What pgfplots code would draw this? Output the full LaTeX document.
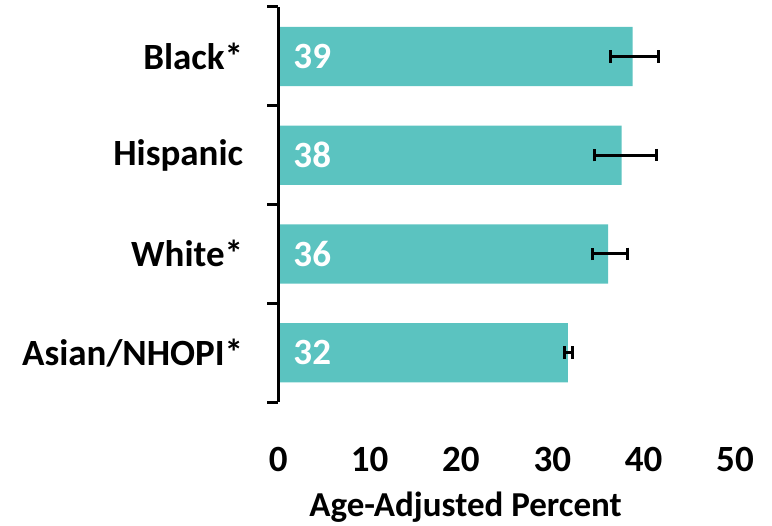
\documentclass[border=0pt]{standalone}
\usepackage{pgfplots}
\pgfplotsset{compat=1.18}
\usepackage{pgfplotstable}
\usepackage{fontspec}
\setmainfont{Carlito}
\definecolor{barteal}{HTML}{5BC3C0}
\newcommand\lbl{\fontsize{37bp}{44bp}\selectfont\bfseries}
\newcommand\axlbl{\fontsize{35bp}{42bp}\selectfont\bfseries}

% age-adjusted percent with 95% confidence limits, one row per group
\pgfplotstableread{
pos val  lo   hi
3   38.8 36.4 41.6
2   37.6 34.6 41.4
1   36.1 34.4 38.2
0   31.7 31.3 32.2
}\rates

\begin{document}
\begin{tikzpicture}
\useasboundingbox (-278.3bp,-124bp) rectangle (493.7bp,402bp);
\begin{axis}[
  at={(0,0)}, anchor=south west,
  scale only axis, width=456.7bp, height=395bp,
  xmin=0, xmax=50, ymin=-0.5, ymax=3.5,
  axis on top,
  clip=false,
  axis y line*=left, axis x line*=bottom,
  x axis line style={draw=none},
  y axis line style={line width=3bp, black},
  xtick={0,10,...,50},
  ytick={0,1,2,3},
  yticklabels={Asian/NHOPI*,White*,Hispanic,Black*},
  minor ytick={-0.5,0.5,1.5,2.5,3.5},
  major tick length=0pt,
  minor tick length=11bp,
  tick align=outside,
  every minor tick/.append style={line width=3bp, black},
  tick label style={font=\lbl, inner sep=0pt},
  yticklabel style={anchor=east, xshift=-35bp},
  xticklabel style={anchor=north, yshift=-45bp},
  /pgf/number format/assume math mode=true,
  xlabel={Age-Adjusted Percent},
  xlabel style={font=\axlbl, at={(axis description cs:0.41,0)}, anchor=base, yshift=-114bp, inner sep=0pt},
]
\addplot[xbar, bar width=0.6, fill=barteal, draw=none,
  error bars/.cd, x dir=both, x explicit,
  error bar style={line width=3bp, black},
  error mark options={rotate=90, line width=3.2bp, mark size=6.3bp, black}]
  table[x=val, y=pos,
        x error plus expr=\thisrow{hi}-\thisrow{val},
        x error minus expr=\thisrow{val}-\thisrow{lo}] {\rates};
% value labels at the start of each bar
\addplot[draw=none, mark=none, point meta=\thisrow{val},
  nodes near coords={\pgfmathprintnumber[fixed,precision=0]{\pgfplotspointmeta}},
  nodes near coords style={anchor=west, xshift=15bp, inner sep=0pt, text=white, font=\lbl}]
  table[x expr=0, y=pos] {\rates};
\end{axis}
\end{tikzpicture}
\end{document}
